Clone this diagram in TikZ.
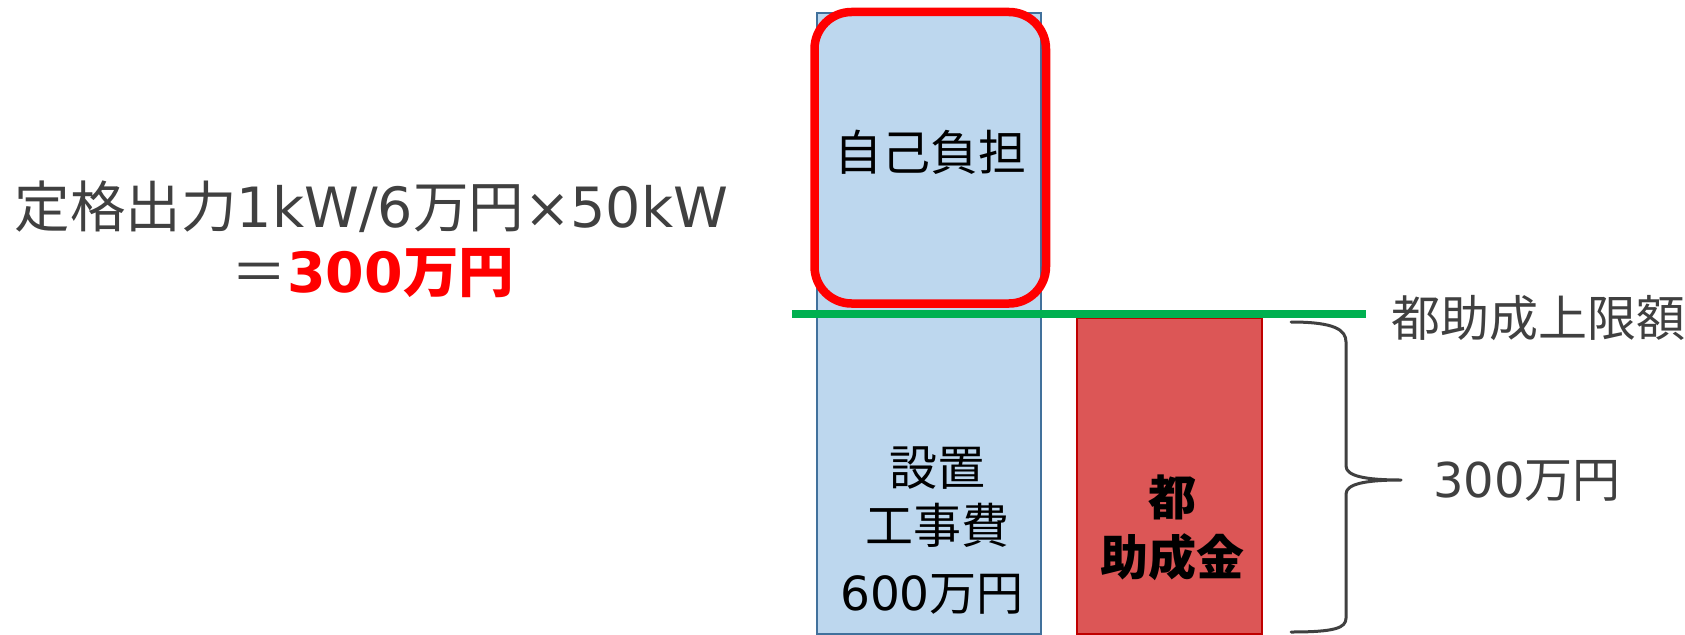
\documentclass[tikz,border=0pt]{standalone}
\usepackage{fontspec}
\setmainfont{DejaVu Sans}
\newfontfamily\cjk{Noto Sans CJK JP}
\definecolor{textgray}{HTML}{404040}
\definecolor{barfill}{HTML}{BDD7EE}
\definecolor{barline}{HTML}{41719C}
\definecolor{subfill}{HTML}{DC5656}
\definecolor{subline}{HTML}{C00000}
\definecolor{limitgreen}{HTML}{00B050}
\definecolor{hired}{HTML}{FF0000}
\tikzset{
  txt/.style={inner sep=0pt, outer sep=0pt},
  graytxt/.style={txt, text=textgray},
  blacktxt/.style={txt, text=black},
  costbar/.style={fill=barfill, draw=barline, line width=2pt},
  subbar/.style={fill=subfill, draw=subline, line width=2pt},
  highlight/.style={draw=hired, line width=8.5pt, rounded corners=37pt},
  limitline/.style={draw=limitgreen, line width=8pt},
  bracestyle/.style={draw=textgray, line width=3pt, line cap=round, line join=round},
}
\begin{document}
\begin{tikzpicture}[x=1pt,y=-1pt]
\useasboundingbox (0,0) rectangle (1685,634);
\fill[white] (0,0) rectangle (1685,634);
% bars
\draw[costbar] (817,13) rectangle (1041,634);
\draw[subbar] (1077,318) rectangle (1262,634);
% highlight of own share
\draw[highlight] (814.5,12) rectangle (1046,303.5);
% subsidy limit line
\coordinate (limL) at (792,314);
\coordinate (limR) at (1366,314);
\draw[limitline] (limL) -- (limR);
% brace
\draw[bracestyle] (1291,322) .. controls (1335,322) and (1346,330) .. (1346,342)
  -- (1346,466) .. controls (1346,476) and (1365,480) .. (1401,480)
  .. controls (1365,480) and (1346,484) .. (1346,494)
  -- (1346,618) .. controls (1346,628) and (1335,632) .. (1291,632);
% left formula
\node[graytxt, font=\fontsize{55.5}{60}\selectfont] (formula) at (371.5,207)
  {{\cjk 定格出力}1kW/6{\cjk 万円}×50kW};
\node[graytxt, font=\fontsize{55.5}{60}\selectfont] (result) at (373,273)
  {{\cjk ＝}{\color{hired}\bfseries 300{\cjk 万円}}};
% texts in bars
\node[blacktxt, font=\fontsize{48}{52}\selectfont\cjk] (own) at (930,152) {自己負担};
\node[blacktxt, font=\fontsize{48}{52}\selectfont\cjk] (cost1) at (937,468) {設置};
\node[blacktxt, font=\fontsize{48}{52}\selectfont\cjk] (cost2) at (937,525) {工事費};
\node[blacktxt, font=\fontsize{47}{52}\selectfont] (cost3) at (932,594) {600{\cjk 万円}};
\node[blacktxt, font=\fontsize{48}{52}\selectfont\cjk\bfseries] (sub1) at (1172,497) {都};
\node[blacktxt, font=\fontsize{48}{52}\selectfont\cjk\bfseries] (sub2) at (1172,557) {助成金};
% right labels
\node[graytxt, font=\fontsize{49}{52}\selectfont\cjk, anchor=west] (limit) at (1391,318) {都助成上限額};
\node[graytxt, font=\fontsize{48}{52}\selectfont] (amount) at (1527,481) {300{\cjk 万円}};
\end{tikzpicture}
\end{document}
